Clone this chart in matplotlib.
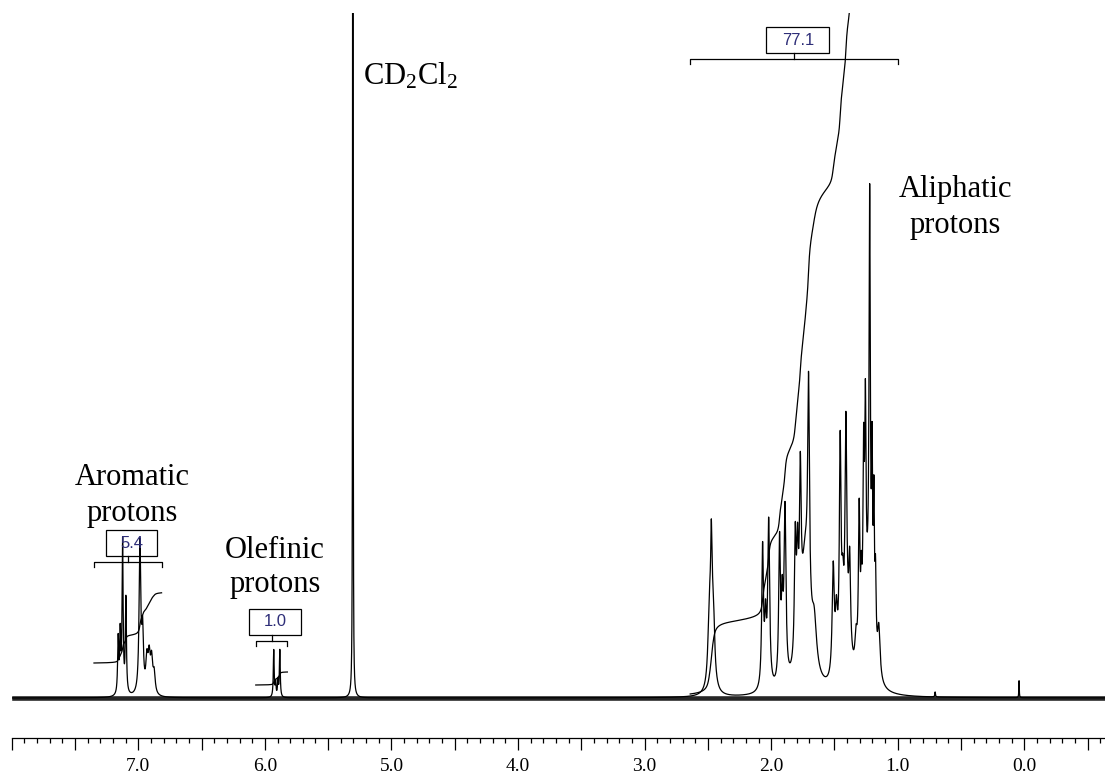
import numpy as np
import matplotlib
matplotlib.use("Agg")
import matplotlib.pyplot as plt
from matplotlib.patches import Rectangle

# ---------------- data ----------------
# line positions (ppm), heights (baseline-relative, arbitrary units), half widths (ppm)
aromatic_ppm    = [7.159, 7.143, 7.124, 7.098, 6.987, 6.966, 6.932, 6.914, 6.895, 6.875]
aromatic_height = [55, 58, 152, 95, 150, 58, 32, 34, 32, 20]
aromatic_width  = [0.005, 0.005, 0.005, 0.005, 0.008, 0.008, 0.010, 0.010, 0.010, 0.010]

olefinic_ppm    = [5.930, 5.915, 5.897, 5.882]
olefinic_height = [47, 14, 16, 47]
olefinic_width  = [0.004, 0.004, 0.004, 0.004]

solvent_ppm    = [5.305]
solvent_height = [3000]
solvent_width  = [0.0012]

aliphatic_ppm = [2.473, 2.473, 2.490, 2.456,
                 2.068, 2.045, 2.020,
                 1.934, 1.913, 1.891,
                 1.810, 1.792, 1.770, 1.705, 1.730, 1.660,
                 1.510, 1.485,
                 1.455, 1.435, 1.410, 1.380, 1.400, 1.330,
                 1.305, 1.288, 1.270, 1.256, 1.222, 1.203, 1.189, 1.176, 1.150, 1.240,
                 0.705, 0.042]
aliphatic_height = [100, 45, 50, 50,
                    140, 60, 165,
                    140, 70, 170,
                    120, 90, 155, 215, 130, 45,
                    110, 55,
                    220, 60, 210, 85, 50, 30,
                    150, 60, 170, 200, 420, 170, 140, 80, 50, 80,
                    5, 17]
aliphatic_width = [0.015, 0.004, 0.012, 0.012,
                   0.008, 0.008, 0.009,
                   0.008, 0.008, 0.009,
                   0.008, 0.008, 0.008, 0.008, 0.042, 0.022,
                   0.010, 0.010,
                   0.008, 0.010, 0.008, 0.008, 0.030, 0.010,
                   0.007, 0.006, 0.006, 0.006, 0.006, 0.005, 0.005, 0.006, 0.012, 0.035,
                   0.003, 0.002]

# integrals: region start / end (ppm), integral value, curve start offset
integral_start  = [7.35, 6.072, 2.640]
integral_end    = [6.816, 5.822, 0.999]
integral_value  = [5.4, 1.0, 77.1]
integral_offset = [35, 13, 4]
integral_labels = ["5.4", "1.0", "77.1"]

axis_left_ppm, axis_right_ppm = 8.0, -0.637
major_ticks = np.arange(-0.5, 8.001, 0.5)
minor_ticks = np.arange(-0.6, 8.001, 0.1)

# ---------------- layout constants ----------------
px_per_H = 13.0            # integral scale (units per proton)
bracket_level = [136, 57, 639]
box_width = [0.40, 0.41, 0.50]
box_height = 26
box_gap = 6
box_shift = -0.03
noise_level = 2.3

# ---------------- build spectrum ----------------
ppm = np.arange(axis_left_ppm, axis_right_ppm, -0.0003)
centers = np.array(aromatic_ppm + olefinic_ppm + solvent_ppm + aliphatic_ppm)
heights = np.array(aromatic_height + olefinic_height + solvent_height + aliphatic_height, float)
widths = np.array(aromatic_width + olefinic_width + solvent_width + aliphatic_width)
spec = (heights[:, None] / (1.0 + ((ppm[None, :] - centers[:, None]) / widths[:, None]) ** 2)).sum(axis=0)

# ---------------- figure ----------------
W, H = 1105, 780
fig = plt.figure(figsize=(W / 100, H / 100), dpi=100)
ax = fig.add_axes([11.7 / W, 42 / H, (W - 11.7) / W, (738 - 13) / H])
ax.set_xlim(axis_left_ppm, axis_right_ppm)
ax.set_ylim(-40, 685)

serif = "Liberation Serif"
sans = "Liberation Sans"
plt.rcParams["mathtext.fontset"] = "custom"
plt.rcParams["mathtext.rm"] = serif
plt.rcParams["mathtext.it"] = serif + ":italic"

# noise band + spectrum
ax.fill_between(ppm, -noise_level, noise_level, color="black", lw=0, alpha=0.85)
ax.plot(ppm, spec, color="black", lw=0.9, zorder=2)

# integrals, brackets, boxes
num_color = "#2e2e78"
for a, b, val, off, lvl, bw, lab in zip(integral_start, integral_end, integral_value,
                                        integral_offset, bracket_level, box_width, integral_labels):
    m = (ppm <= a) & (ppm >= b)
    cs = np.cumsum(spec[m])
    curve = off + cs / cs[-1] * val * px_per_H
    ax.plot(ppm[m], curve, color="black", lw=0.9)
    # bracket
    ax.plot([a, a, b, b], [lvl - 5, lvl, lvl, lvl - 5], color="black", lw=0.9)
    mid = (a + b) / 2
    ax.plot([mid, mid], [lvl, lvl + box_gap], color="black", lw=0.9)
    bc = mid + box_shift
    ax.add_patch(Rectangle((bc - bw / 2, lvl + box_gap), bw, box_height,
                           facecolor="none", edgecolor="black", lw=0.9, zorder=3))
    ax.text(bc, lvl + box_gap + box_height / 2, lab, ha="center", va="center",
            fontsize=12, family=sans, color=num_color, zorder=4)

# labels
lab_fs = 22
ax.text(7.045, 213, "Aromatic", ha="center", va="baseline", fontsize=lab_fs, family=serif)
ax.text(7.045, 177, "protons", ha="center", va="baseline", fontsize=lab_fs, family=serif)
ax.text(5.922, 140, "Olefinic", ha="center", va="baseline", fontsize=lab_fs, family=serif)
ax.text(5.922, 106, "protons", ha="center", va="baseline", fontsize=lab_fs, family=serif)
ax.text(0.547, 501, "Aliphatic", ha="center", va="baseline", fontsize=lab_fs, family=serif)
ax.text(0.547, 465, "protons", ha="center", va="baseline", fontsize=lab_fs, family=serif)
ax.text(5.226, 614, r"CD$_2$Cl$_2$", ha="left", va="baseline", fontsize=lab_fs, family=serif)

# axes styling
for s in ["top", "left", "right"]:
    ax.spines[s].set_visible(False)
ax.spines["bottom"].set_linewidth(0.9)
ax.set_yticks([])
ax.set_xticks(major_ticks)
ax.set_xticks(minor_ticks, minor=True)
ax.set_xticklabels([f"{t:.1f}" if abs(t - round(t)) < 1e-6 and 0 <= t <= 7.5 else "" for t in major_ticks],
                   family=serif, fontsize=14)
ax.tick_params(axis="x", which="major", length=8.6, width=0.9, direction="out", pad=6)
ax.tick_params(axis="x", which="minor", length=3.6, width=0.9, direction="out")
ax.patch.set_visible(False)

fig.savefig("out.png", dpi=100)
